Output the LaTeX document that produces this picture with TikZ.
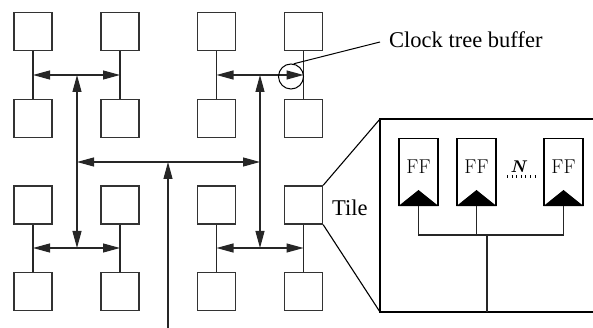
\documentclass[tikz,border=0pt]{standalone}
\usepackage{fontspec}
\newfontfamily\tnr{Liberation Serif}
\usetikzlibrary{arrows.meta}
\tikzset{
  x=1pt, y=-1pt,
  tile/.style={draw=black!80, line width=1.3pt, minimum size=38pt, inner sep=0pt},
  wire/.style={line width=1.1pt, black!85},
  dbl/.style={wire, {Triangle[length=17pt,width=9pt]}-{Triangle[length=17pt,width=9pt]}},
  sgl/.style={wire, -{Triangle[length=17pt,width=9pt]}},
  ff/.style={draw, line width=1.1pt, minimum width=39pt, minimum height=67pt, inner sep=0pt},
  lbl/.style={font=\tnr\fontsize{22.5}{24}\selectfont, inner sep=0pt},
}
\begin{document}
\begin{tikzpicture}
\useasboundingbox (0,0) rectangle (593,328);
% tiles
\foreach \r/\y in {1/31.5,2/118.5,3/205,4/291.5}{
  \foreach \c/\x in {1/33,2/120,3/216.5,4/303.5}{
    \node[tile] (t\r\c) at (\x,\y) {};
  }
}
% vertical pair wires
\foreach \c in {1,2,3,4}{
  \draw[wire] (t1\c.south) -- (t2\c.north);
  \draw[wire] (t3\c.south) -- (t4\c.north);
}
% coordinates
\coordinate (aL) at (33,75);   \coordinate (aR) at (120,75);  \coordinate (aM) at (77,75);
\coordinate (bL) at (33,248);  \coordinate (bR) at (120,248); \coordinate (bM) at (77,248);
\coordinate (cL) at (216.5,75);  \coordinate (cR) at (303.5,75);  \coordinate (cM) at (260,75);
\coordinate (dL) at (216.5,248); \coordinate (dR) at (303.5,248); \coordinate (dM) at (260,248);
\coordinate (mL) at (77,162); \coordinate (mR) at (260,162); \coordinate (mM) at (168,162);
\coordinate (src) at (168,328);
% H-tree arrows
\draw[dbl] (aL) -- (aR);
\draw[dbl] (bL) -- (bR);
\draw[dbl] (cL) -- (cR);
\draw[dbl] (dL) -- (dR);
\draw[dbl] (aM) -- (bM);
\draw[dbl] (cM) -- (dM);
\draw[dbl] (mL) -- (mR);
\draw[sgl] (src) -- (mM);
% clock tree buffer
\node[circle, draw, line width=1pt, minimum size=25pt, inner sep=0pt] (buf) at (291,76.5) {};
\coordinate (lblend) at (380,42);
\draw[line width=1pt] (buf.78) -- (lblend);
\node[lbl, anchor=west] (ctb) at (389,40) {Clock tree buffer};
% Tile label
\node[lbl, anchor=west] (tilelbl) at (332,208) {Tile};
% big box
\coordinate (BTL) at (380,119); \coordinate (BBL) at (380,312);
\coordinate (BTR) at (594,119); \coordinate (BBR) at (594,312);
\draw[line width=1.1pt] (BTR) -- (BTL) -- (BBL) -- (BBR);
\draw[line width=1.1pt] (t34.north east) -- (BTL);
\draw[line width=1.1pt] (t34.south east) -- (BBL);
% flip-flops
\foreach \n/\x in {1/418.5,2/476.5,3/563.5}{
  \node[ff, anchor=north] (ff\n) at (\x,138) {};
  \node[font=\fontsize{20}{20}\selectfont, inner sep=0pt] (fft\n) at (\x,167) {FF};
  \fill (ff\n.south west) -- (\x,190) -- (ff\n.south east) -- cycle;
}
\node[font=\fontsize{17}{17}\selectfont\bfseries\itshape, inner sep=0pt] (nlab) at (518,167) {N};
\coordinate (dotA) at (507,176.5); \coordinate (dotB) at (535,176.5);
\draw[line width=3pt, dash pattern=on 1pt off 3.6pt] (dotA) -- (dotB);
% clock wires in tile
\coordinate (j1) at (418.5,235); \coordinate (j3) at (563.5,235);
\coordinate (j2) at (476.5,235); \coordinate (jm) at (487,235);
\coordinate (jb) at (487,312);
\draw[wire] (ff1.south) -- (j1) -- (j3) -- (ff3.south);
\draw[wire] (ff2.south) -- (j2);
\draw[wire] (jm) -- (jb);
\end{tikzpicture}
\end{document}
